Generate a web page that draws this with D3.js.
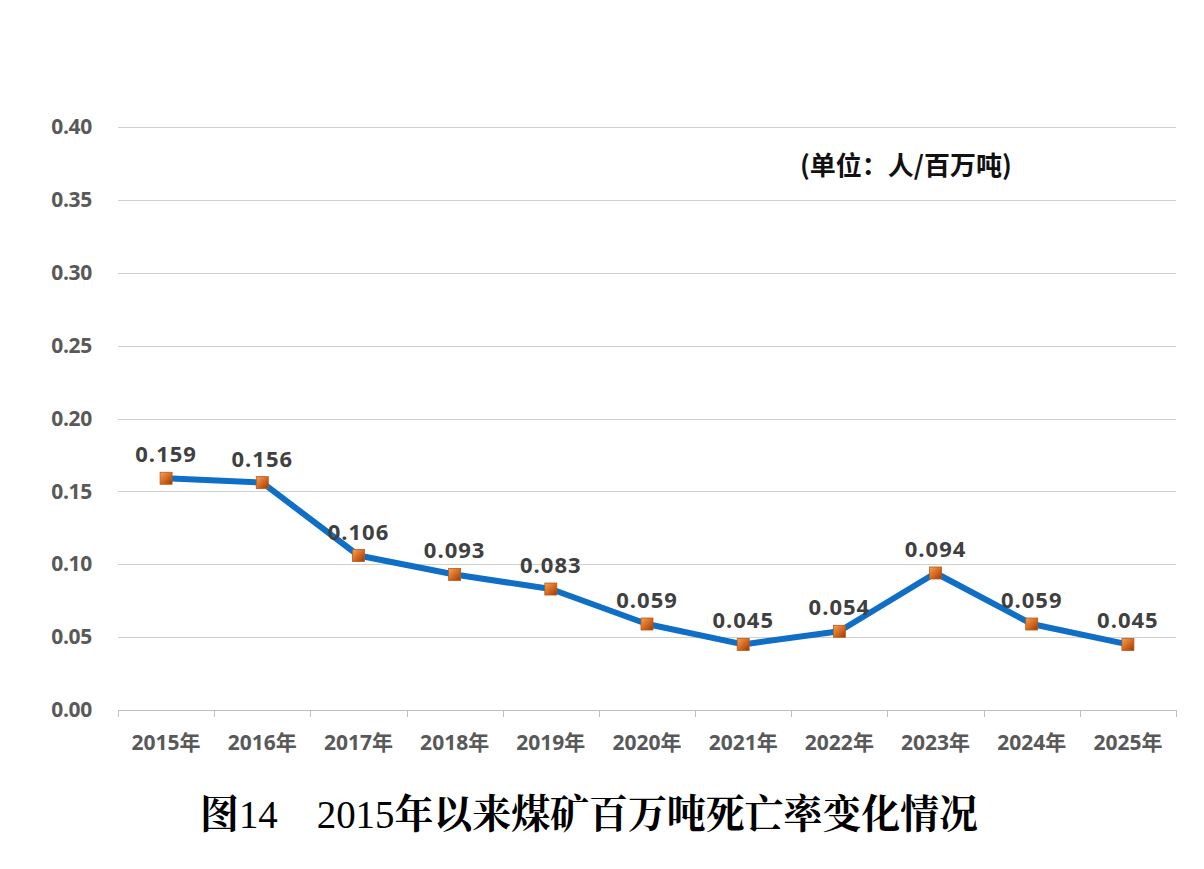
<!DOCTYPE html>
<html><head><meta charset="utf-8">
<script src="https://cdn.jsdelivr.net/npm/d3@7/dist/d3.min.js"></script>
<style>body{margin:0;background:#fff}</style>
</head><body>
<svg id="c" width="1204" height="869"></svg>
<script>
const categories = ["2015年","2016年","2017年","2018年","2019年","2020年","2021年","2022年","2023年","2024年","2025年"];
const values = [0.159,0.156,0.106,0.093,0.083,0.059,0.045,0.054,0.094,0.059,0.045];
const yTicks = [0,0.05,0.10,0.15,0.20,0.25,0.30,0.35,0.40];
const titleParts = [["图","bold"],["14　2015","normal"],["年以来煤矿百万吨死亡率变化情况","bold"]];
const unitText = "(单位：人/百万吨)";

(function(){
const svg = d3.select("#c");
const pL = 118, pR = 1176, pT = 127, pB = 710;
const x = d3.scaleBand().domain(categories).range([pL, pR]);
const y = d3.scaleLinear().domain([0, 0.40]).range([pB, pT]);
const sans = "'Open Sans','Noto Sans CJK SC',sans-serif";

const defs = svg.append("defs");
const g = defs.append("linearGradient").attr("id","mk").attr("x1",0).attr("y1",0).attr("x2",1).attr("y2",1);
g.append("stop").attr("offset","0%").attr("stop-color","#f5a35c");
g.append("stop").attr("offset","55%").attr("stop-color","#d4651c");
g.append("stop").attr("offset","100%").attr("stop-color","#8f3e0c");

// gridlines
svg.append("g").selectAll("line").data(yTicks.slice(1)).join("line")
  .attr("x1", pL).attr("x2", pR)
  .attr("y1", d => Math.round(y(d))+0.5).attr("y2", d => Math.round(y(d))+0.5)
  .attr("stroke", "#d0d0d0").attr("stroke-width", 1);

// y axis labels
const ya = svg.append("g").attr("transform", `translate(${pL},0)`)
  .call(d3.axisLeft(y).tickValues(yTicks).tickFormat(d3.format(".2f")).tickSize(0).tickPadding(26));
ya.select(".domain").remove();
ya.selectAll("text").attr("font-family", sans).attr("font-size", 21).attr("font-weight", "bold").attr("fill", "#595959").attr("letter-spacing", -0.3);

// x axis
const xa = svg.append("g").attr("transform", `translate(0,${pB})`)
  .call(d3.axisBottom(x).tickSize(0).tickPadding(25));
xa.select(".domain").attr("stroke", "#bfbfbf");
xa.selectAll("text").attr("font-family", sans).attr("font-size", 21).attr("font-weight", "bold").attr("fill", "#595959");
const bounds = categories.map(c => x(c)).concat([pR]);
svg.append("g").selectAll("line").data(bounds).join("line")
  .attr("x1", d => Math.round(d)+0.5).attr("x2", d => Math.round(d)+0.5)
  .attr("y1", pB).attr("y2", pB+7).attr("stroke", "#bfbfbf");

// line
const cx = d => x(d) + x.bandwidth()/2;
svg.append("path").datum(values.map((v,i)=>[categories[i],v]))
  .attr("fill","none").attr("stroke","#0f6fc6").attr("stroke-width",6).attr("stroke-linejoin","round")
  .attr("d", d3.line().x(d => cx(d[0])).y(d => y(d[1])));

// markers
svg.append("g").selectAll("rect").data(values).join("rect")
  .attr("x", (d,i) => cx(categories[i]) - 6).attr("y", d => y(d) - 6)
  .attr("width", 12).attr("height", 12)
  .attr("fill", "url(#mk)").attr("stroke", "#b85a1a").attr("stroke-width", 0.8);

// data labels
svg.append("g").selectAll("text").data(values).join("text")
  .attr("x", (d,i) => cx(categories[i])).attr("y", d => y(d) - 16)
  .attr("text-anchor", "middle").attr("font-family", sans).attr("font-size", 22)
  .attr("font-weight", "bold").attr("fill", "#404040").attr("letter-spacing", 1)
  .text(d => d3.format(".3f")(d));

// unit
svg.append("text").attr("x", 800).attr("y", 175).attr("font-family", "'Noto Sans CJK SC',sans-serif")
  .attr("font-size", 26).attr("font-weight", "bold").attr("fill", "#111").text(unitText);

// title
const t = svg.append("text").attr("x", 589).attr("y", 828).attr("text-anchor", "middle")
  .attr("font-family", "'Liberation Serif','Noto Serif CJK SC','Noto Sans CJK SC',serif")
  .attr("font-size", 40).attr("fill", "#000").attr("textLength", 778).attr("lengthAdjust", "spacingAndGlyphs");
t.selectAll("tspan").data(titleParts).join("tspan").attr("font-weight", d => d[1]).text(d => d[0]);
})();
</script>
</body></html>
